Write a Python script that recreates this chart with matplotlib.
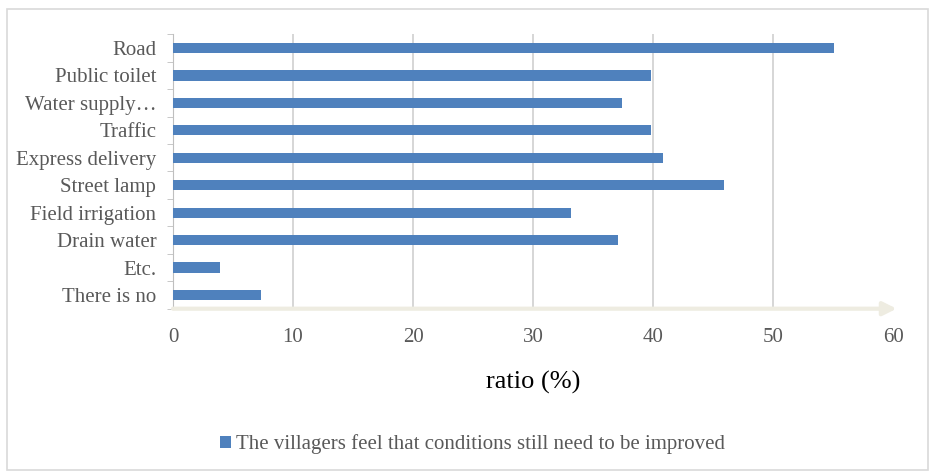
import matplotlib
matplotlib.use("Agg")
import matplotlib.pyplot as plt
from matplotlib.patches import Rectangle
import numpy as np

plt.rcParams['font.family'] = ['Liberation Serif', 'DejaVu Serif']

categories = ["Road", "Public toilet", "Water supply\u2026", "Traffic", "Express delivery",
              "Street lamp", "Field irrigation", "Drain water", "Etc.", "There is no"]
values = [55.1, 39.8, 37.4, 39.8, 40.8, 45.9, 33.2, 37.1, 3.9, 7.3]
xticks = [0, 10, 20, 30, 40, 50, 60]
series_name = "The villagers feel that conditions still need to be improved"

bar_color = "#4F81BD"
text_gray = "#595959"

fig = plt.figure(figsize=(9.3, 4.72), dpi=100)
ax = fig.add_axes([173 / 930, 1 - 308.7 / 472, 720 / 930, (308.7 - 34.3) / 472])

# outer chart border
fig.patches.append(Rectangle((7 / 930, 2 / 472), 921 / 930, 461 / 472, transform=fig.transFigure,
                             fill=False, edgecolor="#d9d9d9", linewidth=1.2))

y = np.arange(len(categories))
ax.barh(y, values, height=0.37, color=bar_color, label=series_name, zorder=3)
ax.set_ylim(len(categories) - 0.5, -0.5)
ax.set_xlim(0, 60)

ax.set_yticks(y)
ax.set_yticklabels(categories, fontsize=15, color=text_gray)
ax.set_yticks(np.arange(-0.5, len(categories)), minor=True)
ax.tick_params(axis='y', which='major', length=0, pad=12)
ax.tick_params(axis='y', which='minor', length=4, color="#bfbfbf")

ax.set_xticks(xticks)
ax.set_xticklabels([str(t) for t in xticks], fontsize=15, color=text_gray)
ax.tick_params(axis='x', length=0, pad=14)

ax.grid(axis='x', color="#d0d0d0", linewidth=1.2, zorder=0)
gl = ax.get_xgridlines()
gl[0].set_visible(False)
gl[-1].set_visible(False)

for s in ['top', 'right', 'bottom']:
    ax.spines[s].set_visible(False)
ax.spines['left'].set_color("#bfbfbf")

# x axis line with arrow head
ax.annotate("", xy=(60.3, 0), xytext=(0, 0), xycoords=('data', 'axes fraction'),
            arrowprops=dict(arrowstyle="-|>", color="#EEECE1", lw=3, mutation_scale=20,
                            shrinkA=0, shrinkB=0), annotation_clip=False, zorder=4)

ax.set_xlabel("ratio (%)", fontsize=19, color="black", labelpad=17)

ax.legend(loc='upper center', bbox_to_anchor=(0.416, -0.39), frameon=False,
          fontsize=15, handlelength=0.55, handleheight=0.55, handletextpad=0.25,
          labelcolor=text_gray)

fig.savefig("out.png", dpi=100)
